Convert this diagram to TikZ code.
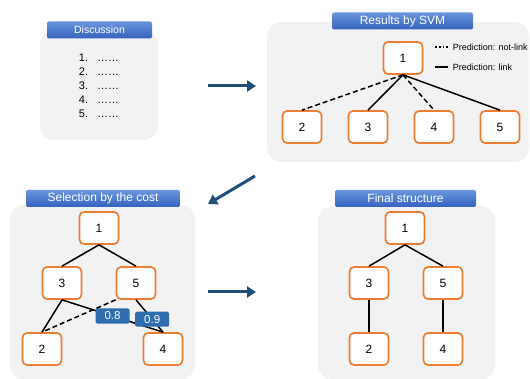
\documentclass[tikz,border=0pt]{standalone}
\usepackage{fontspec}
\setmainfont{Liberation Sans}
\usetikzlibrary{positioning, arrows.meta}
\definecolor{panelgray}{HTML}{F2F2F2}
\definecolor{boxorange}{HTML}{ED7D31}
\definecolor{bartop}{HTML}{6A95DC}
\definecolor{barbot}{HTML}{3562BE}
\definecolor{costblue}{HTML}{2E6DAE}
\definecolor{flowblue}{HTML}{1F4E79}
\tikzset{
  panel/.style={fill=panelgray, rounded corners=14pt},
  titlebar/.style={top color=bartop, bottom color=barbot, text=white, rounded corners=2pt,
    minimum height=17pt, inner sep=0pt, font=\fontsize{12}{14}\selectfont},
  vertex/.style={draw=boxorange, fill=white, line width=1.7pt, rounded corners=4.5pt,
    minimum width=39pt, minimum height=32pt, font=\fontsize{12}{14}\selectfont},
  cost/.style={fill=costblue, text=white, rounded corners=1.5pt, minimum width=34pt,
    minimum height=15pt, inner sep=0pt, font=\fontsize{11.5}{13}\selectfont},
  legend/.style={anchor=west, inner sep=0pt, font=\fontsize{9}{11}\selectfont},
  notlink/.style={dash pattern=on 5pt off 3pt},
  flow/.style={draw=flowblue, line width=3pt, -{Triangle[length=9pt,width=11pt]}}
}
\begin{document}
\begin{tikzpicture}[x=1pt, y=-1pt, on grid, line width=1.5pt]
   \useasboundingbox (0,0) rectangle (530,379);

   % panels
   \fill[panel] (40,30) rectangle (158,140);
   \fill[panel] (267,22) rectangle (529,162);
   \fill[panel] (10,205) rectangle (195,379);
   \fill[panel] (318,206) rectangle (495,379);

   \node[titlebar, minimum width=105pt, font=\fontsize{10.5}{12}\selectfont] (t_disc) at (99.5,30) {Discussion};
   \node[titlebar, minimum width=141pt] (t_svm) at (402.5,21) {Results by SVM};
   \node[titlebar, minimum width=154pt] (t_cost) at (103,198.5) {Selection by the cost};
   \node[titlebar, minimum width=141pt] (t_final) at (405.5,198.5) {Final structure};

   % discussion list
   \node[align=left, inner sep=0pt, font=\fontsize{11}{14}\selectfont] (items) at (99,86)
     {1.\hspace{9pt}……\\ 2.\hspace{9pt}……\\ 3.\hspace{9pt}……\\ 4.\hspace{9pt}……\\ 5.\hspace{9pt}……};

   % results by SVM
   \node[vertex] (r_1) at (403,58) {1};
   \node[vertex] (r_3) [below left=69pt and 35pt of r_1] {3};
   \node[vertex] (r_2) [left=66pt of r_3] {2};
   \node[vertex] (r_4) [right=66pt of r_3] {4};
   \node[vertex] (r_5) [right=66pt of r_4] {5};

   \path[draw]
    (r_1.south) edge [notlink] (r_2.north)
                edge (r_3.north)
                edge [notlink] (r_4.north)
                edge (r_5.north);

   \node[legend] (l_not) at (452,47) {Prediction: not-link};
   \node[legend] (l_link) at (452,67) {Prediction: link};
   \draw[dotted, line width=1.8pt] ([xshift=-17pt]l_not.west) -- ([xshift=-4pt]l_not.west);
   \draw[line width=1.8pt] ([xshift=-17pt]l_link.west) -- ([xshift=-4pt]l_link.west);

   % selection by the cost
   \node[vertex] (s_1) at (99,228) {1};
   \node[vertex] (s_3) [below left=55pt and 37pt of s_1] {3};
   \node[vertex] (s_5) [below right=55pt and 37pt of s_1] {5};
   \node[vertex] (s_2) [below left=66pt and 20pt of s_3] {2};
   \node[vertex] (s_4) [below right=66pt and 27pt of s_5] {4};

   \path[draw]
    (s_1.south) edge (s_3.north)
                edge (s_5.north)
    (s_3.south) edge (s_2.north)
                edge node[cost, pos=0.5] {0.8} (s_4.north)
    (s_5.south west) edge [notlink] (s_2.north)
    (s_5.south) edge node[cost, pos=0.6] {0.9} (s_4.north);

   % final structure
   \node[vertex] (f_1) at (405,228) {1};
   \node[vertex] (f_3) [below left=55pt and 36pt of f_1] {3};
   \node[vertex] (f_5) [below right=55pt and 38pt of f_1] {5};
   \node[vertex] (f_2) [below=66pt of f_3] {2};
   \node[vertex] (f_4) [below=66pt of f_5] {4};

   \path[draw]
    (f_1.south) edge (f_3.north)
                edge (f_5.north)
    (f_3) edge (f_2)
    (f_5) edge (f_4);

   % flow between panels
   \coordinate (a_1) at (208,86);
   \coordinate (b_1) at (256,86);
   \coordinate (a_2) at (255,176);
   \coordinate (b_2) at (208,204);
   \coordinate (a_3) at (208,292);
   \coordinate (b_3) at (256,292);
   \draw[flow] (a_1) -- (b_1);
   \draw[flow] (a_2) -- (b_2);
   \draw[flow] (a_3) -- (b_3);
\end{tikzpicture}
\end{document}
